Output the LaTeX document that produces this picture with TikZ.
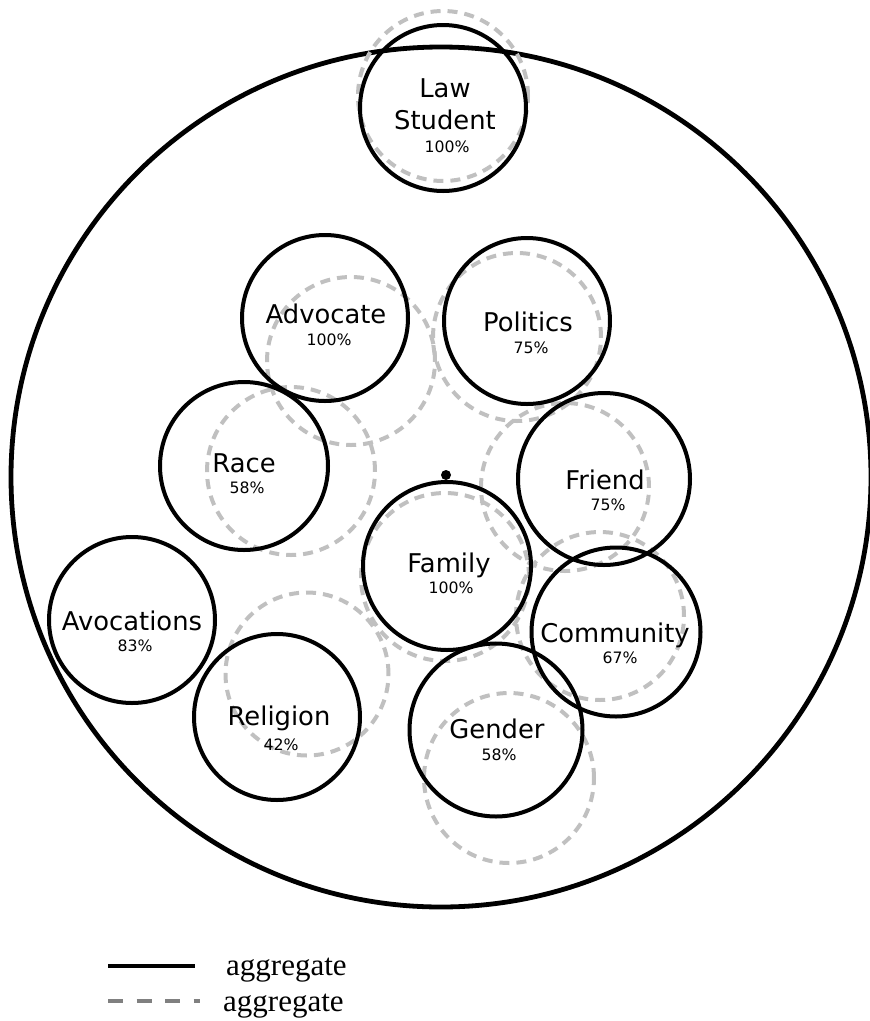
\documentclass[tikz,border=0pt]{standalone}
\usepackage{fontspec}
\setmainfont{DejaVu Sans}
\newfontfamily\legendfont{Liberation Serif}
\definecolor{dashgray}{RGB}{192,192,192}
\definecolor{leggray}{RGB}{128,128,128}
\begin{document}
\begin{tikzpicture}[x=1pt,y=-1pt,
  bigc/.style={circle,draw=black,line width=4.8pt,inner sep=0pt,minimum size=860pt},
  solidc/.style={circle,draw=black,line width=4pt,inner sep=0pt,minimum size=#1},
  solidc/.default=166pt,
  dashc/.style={circle,draw=dashgray,line width=4pt,dash pattern=on 10pt off 7pt,inner sep=0pt,minimum size=#1},
  dashc/.default=168pt,
  lbl/.style={anchor=base,inner sep=0pt,font=\fontsize{25.8}{28}\selectfont},
  pct/.style={anchor=base,inner sep=0pt,font=\fontsize{15.7}{18}\selectfont},
  legtxt/.style={anchor=base west,inner sep=0pt,font=\legendfont\fontsize{31}{34}\selectfont},
  legsolid/.style={draw=black,line width=3.8pt},
  legdash/.style={draw=leggray,line width=3.8pt,dash pattern=on 15pt off 13.5pt}]
\useasboundingbox (0,0) rectangle (870,1021);
% outer circle
\node[bigc] (outer) at (441,477) {};
% dashed circles
\node[dashc=170pt] (lawD) at (443,96) {};
\node[dashc] (advD) at (351,361) {};
\node[dashc] (polD) at (517,337) {};
\node[dashc] (raceD) at (291,471) {};
\node[dashc] (friD) at (565,487) {};
\node[dashc] (famD) at (445,577) {};
\node[dashc] (comD) at (600,616) {};
\node[dashc=163pt] (relD) at (307,674) {};
\node[dashc=170pt] (genD) at (509,778) {};
% solid circles
\node[solidc] (law) at (443,108) {};
\node[solidc] (adv) at (325,318) {};
\node[solidc] (pol) at (527,321) {};
\node[solidc=168pt] (race) at (244,466) {};
\node[solidc=172pt] (fri) at (604,479) {};
\node[solidc=168pt] (fam) at (447,566) {};
\node[solidc] (avo) at (132,620) {};
\node[solidc=169pt] (com) at (616,632) {};
\node[solidc] (rel) at (277,717) {};
\node[solidc=173pt] (gen) at (496,730) {};
% centre dot
\fill[black] (446,475) circle[radius=5pt];
\coordinate (dot) at (446,475);
% labels
\node[lbl] (lawL1) at (445,97) {Law};
\node[lbl] (lawL2) at (445,129) {Student};
\node[pct] (lawP) at (447,152) {100\%};
\node[lbl] (advL) at (326,323) {Advocate};
\node[pct] (advP) at (329,345) {100\%};
\node[lbl] (polL) at (528,331) {Politics};
\node[pct] (polP) at (531,353) {75\%};
\node[lbl] (raceL) at (244,472) {Race};
\node[pct] (raceP) at (247,493) {58\%};
\node[lbl] (friL) at (605,489) {Friend};
\node[pct] (friP) at (608,510) {75\%};
\node[lbl] (famL) at (449,572) {Family};
\node[pct] (famP) at (451,593) {100\%};
\node[lbl] (avoL) at (132,630) {Avocations};
\node[pct] (avoP) at (135,651) {83\%};
\node[lbl] (comL) at (615,642) {Community};
\node[pct] (comP) at (620,663) {67\%};
\node[lbl] (relL) at (279,725) {Religion};
\node[pct] (relP) at (281,750) {42\%};
\node[lbl] (genL) at (497,738) {Gender};
\node[pct] (genP) at (499,760) {58\%};
% legend
\coordinate (ls1) at (108,966);
\coordinate (ls2) at (195,966);
\coordinate (ld1) at (108,1001);
\coordinate (ld2) at (200,1001);
\draw[legsolid] (ls1) -- (ls2);
\draw[legdash] (ld1) -- (ld2);
\node[legtxt] (legA) at (226,975) {aggregate};
\node[legtxt] (legB) at (223,1011) {aggregate};
\end{tikzpicture}
\end{document}
